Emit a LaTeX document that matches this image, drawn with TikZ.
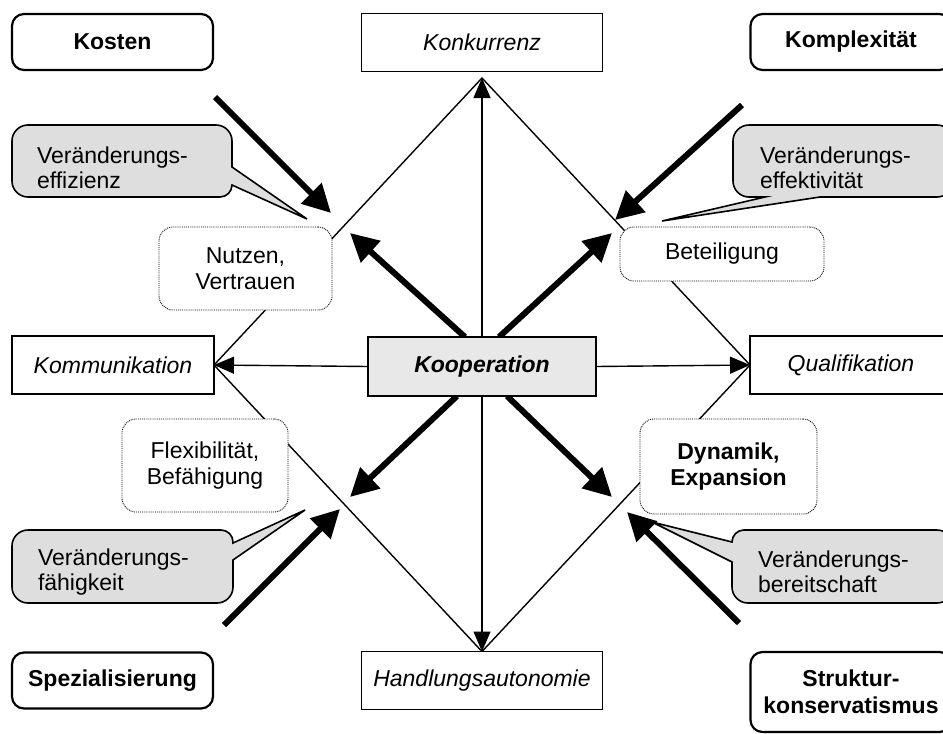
\documentclass[tikz,border=0pt]{standalone}
\usepackage{fontspec}
\setmainfont{Liberation Sans}
\usetikzlibrary{arrows.meta,calc,backgrounds}
\definecolor{bubblefill}{gray}{0.87}
\definecolor{corefill}{gray}{0.91}

\begin{document}
\begin{tikzpicture}[x=1pt,y=-1pt,
  basefont/.style={font=\fontsize{23}{26.5}\selectfont},
  every node/.style={basefont, inner sep=0pt, outer sep=0pt},
  factor/.style={draw, line width=2.2pt, rounded corners=12pt, fill=white,
    font=\fontsize{23}{26.5}\selectfont\bfseries, align=center,
    minimum width=201pt, minimum height=56pt},
  pole/.style={draw, line width=1.7pt, fill=white,
    font=\fontsize{23}{26.5}\selectfont\itshape, minimum height=58pt},
  core/.style={draw, line width=2.4pt, fill=corefill,
    font=\fontsize{23}{26.5}\selectfont\bfseries\itshape,
    minimum width=228pt, minimum height=59pt},
  effect/.style={draw, densely dotted, line width=0.9pt, rounded corners=14pt,
    fill=white, align=center},
  bubble/.style={draw, line width=1.6pt, fill=bubblefill},
  bubbletext/.style={anchor=west, align=left, font=\fontsize{23}{25}\selectfont},
  link/.style={line width=1.4pt},
  linkarrow/.style={link, -{Triangle[length=20pt,width=17pt]}},
  force/.style={line width=6pt, -{Triangle[length=28pt,width=28pt]}}
]
\useasboundingbox (0,0) rectangle (943,734);

% driving factors in the corners
\node[factor] (kosten) at (112.5,42) {Kosten};
\node[factor] (komplex) at (851,42) {Komplexität};
\node[factor] (spez) at (112.5,680.5) {Spezialisierung};
\node[factor, minimum height=80pt] (struktur) at (851,692) {Struktur-\\konservatismus};

% poles of the diamond
\node[pole, minimum width=241pt] (konk) at (482,42.5) {Konkurrenz};
\node[pole, minimum width=241pt] (hand) at (482,680.5) {Handlungsautonomie};
\node[pole, minimum width=202pt] (komm) at (113,365) {Kommunikation};
\node[pole, minimum width=202pt] (qual) at (851,365) {Qualifikation};
\coordinate (ktop) at (482,78);

% centre
\node[core] (koop) at (482,366.5) {Kooperation};

% effects on the diamond edges
\node[effect, minimum width=173pt, minimum height=83pt] (nutzen) at (245.5,268.5) {Nutzen,\\Vertrauen};
\node[effect, minimum width=204pt, minimum height=54pt] (beteil) at (722,254) {Beteiligung};
\node[effect, minimum width=166pt, minimum height=93pt] (flex) at (205,465.5) {Flexibilität,\\Befähigung};
\node[effect, minimum width=177pt, minimum height=95pt,
  font=\fontsize{23}{26.5}\selectfont\bfseries] (dyn) at (728.5,466.5) {Dynamik,\\Expansion};

% free ends of the heavy arrows
\coordinate (ulT) at (350,233);
\coordinate (urT) at (612,233);
\coordinate (llT) at (350,497);
\coordinate (lrT) at (612,497);
\coordinate (kostenT) at (331,213);
\coordinate (kostenS) at (215,97);
\coordinate (komplexT) at (615,220);
\coordinate (komplexS) at (742,105);
\coordinate (spezT) at (340,509);
\coordinate (spezS) at (224,625);
\coordinate (strukT) at (627,512);
\coordinate (strukS) at (739,623);

% callout tips
\coordinate (efzT) at (307,219);
\coordinate (efkT) at (662,221);
\coordinate (fhkT) at (305,510);
\coordinate (brsT) at (652,522);

\begin{scope}[on background layer]
  % diamond
  \draw[link] (ktop) -- (komm.east) -- (hand.north) -- (qual.west) -- cycle;
  % spokes
  \draw[linkarrow] (koop.north) -- (ktop);
  \draw[linkarrow] (koop.south) -- (hand.north);
  \draw[linkarrow] (koop.west) -- (komm.east);
  \draw[linkarrow] (koop.east) -- (qual.west);
  % heavy arrows out of the centre
  \draw[force] ($(koop.north)+(-17,0)$) -- (ulT);
  \draw[force] ($(koop.north)+(17,0)$) -- (urT);
  \draw[force] ($(koop.south)+(-25,0)$) -- (llT);
  \draw[force] ($(koop.south)+(25,0)$) -- (lrT);
  % heavy arrows from the corners
  \draw[force] (kostenS) -- (kostenT);
  \draw[force] (komplexS) -- (komplexT);
  \draw[force] (spezS) -- (spezT);
  \draw[force] (strukS) -- (strukT);
\end{scope}

% callouts
\draw[bubble] (28,125) -- (216,125) arc[start angle=90,end angle=0,radius=16pt]
  -- (232,167) -- (efzT) -- (232,185) arc[start angle=0,end angle=-90,radius=12pt]
  -- (28,197) arc[start angle=270,end angle=180,radius=16pt]
  -- (12,141) arc[start angle=180,end angle=90,radius=16pt] -- cycle;
\node[bubbletext] (efz) at (37,167.5) {Veränderungs-\\effizienz};

\draw[bubble] (749,125) -- (937,125) arc[start angle=90,end angle=0,radius=16pt]
  -- (953,181) arc[start angle=0,end angle=-90,radius=16pt]
  -- (820,197) -- (efkT) -- (765,197) -- (749,197)
  arc[start angle=270,end angle=180,radius=16pt]
  -- (733,141) arc[start angle=180,end angle=90,radius=16pt] -- cycle;
\node[bubbletext] (efk) at (760,167.5) {Veränderungs-\\effektivität};

\draw[bubble] (28,530) -- (221,530) arc[start angle=90,end angle=0,radius=12pt]
  -- (233,543) -- (fhkT) -- (233,560)
  -- (233,587) arc[start angle=0,end angle=-90,radius=16pt]
  -- (28,603) arc[start angle=270,end angle=180,radius=16pt]
  -- (12,546) arc[start angle=180,end angle=90,radius=16pt] -- cycle;
\node[bubbletext] (fhk) at (38,572.5) {Veränderungs-\\fähigkeit};

\draw[bubble] (744,530) -- (937,530) arc[start angle=90,end angle=0,radius=16pt]
  -- (953,587) arc[start angle=0,end angle=-90,radius=16pt]
  -- (748,603) arc[start angle=270,end angle=180,radius=16pt]
  -- (732,562) -- (brsT) -- (732,542)
  arc[start angle=180,end angle=90,radius=12pt] -- cycle;
\node[bubbletext] (brs) at (758,571.5) {Veränderungs-\\bereitschaft};

\end{tikzpicture}
\end{document}
